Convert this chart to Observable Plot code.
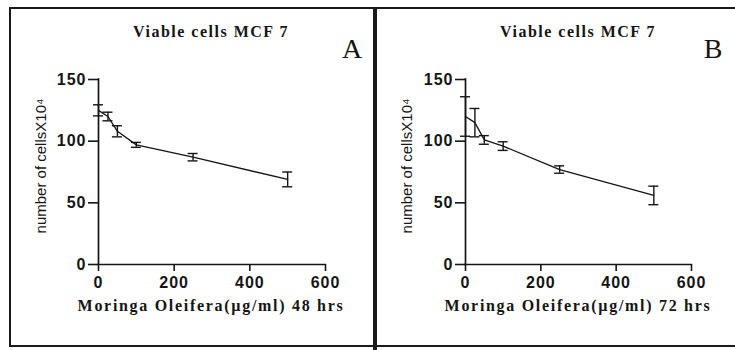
<!DOCTYPE html>
<html><head><meta charset="utf-8">
<script src="https://cdn.jsdelivr.net/npm/d3@7"></script>
<script src="https://cdn.jsdelivr.net/npm/@observablehq/plot@0.6"></script>
<style>
body{margin:0;background:#fff;}
#wrap{position:relative;width:735px;height:350px;overflow:hidden;background:#fff;}
.abs{position:absolute;white-space:nowrap;color:#151515;}
.ttl{font-family:"Liberation Serif","Times New Roman",serif;font-weight:bold;font-size:16px;line-height:16px;letter-spacing:1.5px;transform:translateX(-50%);}
.xt{font-family:"Liberation Serif","Times New Roman",serif;font-weight:bold;font-size:16px;line-height:16px;letter-spacing:1.7px;transform:translateX(-50%);}
.let{font-family:"Liberation Serif","Times New Roman",serif;font-size:28px;line-height:28px;transform:translateX(-50%);}
.yl{font-family:"Liberation Sans",Arial,sans-serif;font-size:15px;line-height:15px;transform:translate(-50%,-50%) rotate(-90deg);}
.ln{position:absolute;background:#1a1a1a;}
#wrap svg{position:absolute;top:0;}
</style></head>
<body><div id="wrap"></div>
<script>
// data
const doses = [0, 25, 50, 100, 250, 500];
const meanA = [125, 120, 108, 97, 87, 69];
const errA  = [4.5, 3.5, 4.5, 2, 3, 6];
const meanB = [120, 115, 101, 96, 77, 56];
const errB  = [16, 11.5, 3.5, 3.5, 3, 7.5];
const xTicks = [0, 200, 400, 600];
const yTicks = [0, 50, 100, 150];
const titleText = "Viable cells MCF 7";
const yLabel = "number of cellsX10\u2074";
const xLabelA = "Moringa Oleifera(\u00b5g/ml) 48 hrs";
const xLabelB = "Moringa Oleifera(\u00b5g/ml) 72 hrs";

const wrap = document.getElementById("wrap");
const tickFont = {fontSize: 16, fontWeight: "bold", fontFamily: "Arial, 'Liberation Sans', sans-serif"};

function panel(mean, err, width, marginLeft, marginRight) {
  const data = doses.map((d, i) => ({x: d, y: mean[i], lo: mean[i] - err[i], hi: mean[i] + err[i]}));
  const svg = Plot.plot({
    width, height: 350,
    marginLeft, marginRight, marginTop: 79, marginBottom: 86,
    x: {domain: [0, 600]},
    y: {domain: [0, 150]},
    style: {background: "transparent", color: "#151515", fontSize: "16px", fontWeight: "bold"},
    marks: [
      Plot.axisX({ticks: xTicks, tickSize: 7, tickPadding: 5, label: null, strokeWidth: 1.6, ...tickFont}),
      Plot.axisY({ticks: yTicks, tickSize: 10, tickPadding: 2, label: null, strokeWidth: 1.6, ...tickFont}),
      Plot.ruleX([0], {strokeWidth: 1.7, strokeLinecap: "square"}),
      Plot.ruleY([0], {strokeWidth: 1.7, strokeLinecap: "square"}),
      Plot.line(data, {x: "x", y: "y", strokeWidth: 1.3}),
      Plot.ruleX(data, {x: "x", y1: "lo", y2: "hi", strokeWidth: 1.4}),
      Plot.ruleY(data, {y: "hi", x1: "x", x2: "x", insetLeft: -5, insetRight: -5, strokeWidth: 1.4}),
      Plot.ruleY(data, {y: "lo", x1: "x", x2: "x", insetLeft: -5, insetRight: -5, strokeWidth: 1.4})
    ]
  });
  svg.querySelectorAll("text").forEach(t => {
    t.setAttribute("font-weight", "bold");
    t.setAttribute("font-size", "16");
    t.setAttribute("letter-spacing", "1");
  });
  return svg;
}

const svgA = panel(meanA, errA, 370, 98, 45);
svgA.style.left = "0px";
wrap.appendChild(svgA);
const svgB = panel(meanB, errB, 365, 95, 44);
svgB.style.left = "370px";
wrap.appendChild(svgB);

function addText(cls, text, left, top) {
  const d = document.createElement("div");
  d.className = "abs " + cls;
  d.textContent = text;
  d.style.left = left + "px";
  d.style.top = top + "px";
  wrap.appendChild(d);
}
function addLine(left, top, w, h) {
  const d = document.createElement("div");
  d.className = "ln";
  Object.assign(d.style, {left: left + "px", top: top + "px", width: w + "px", height: h + "px"});
  wrap.appendChild(d);
}

addText("ttl", titleText, 211, 24);
addText("ttl", titleText, 578, 24);
addText("let", "A", 352, 35);
addText("let", "B", 713, 35);
addText("xt", xLabelA, 211, 298);
addText("xt", xLabelB, 578, 298);
addText("yl", yLabel, 40, 166);
addText("yl", yLabel, 406, 166);

addLine(9, 7, 726, 2);
addLine(9, 7, 2, 340);
addLine(9, 345, 366, 2);
addLine(373, 7, 4, 343);
addLine(375, 345, 360, 2);
</script>
</body></html>
